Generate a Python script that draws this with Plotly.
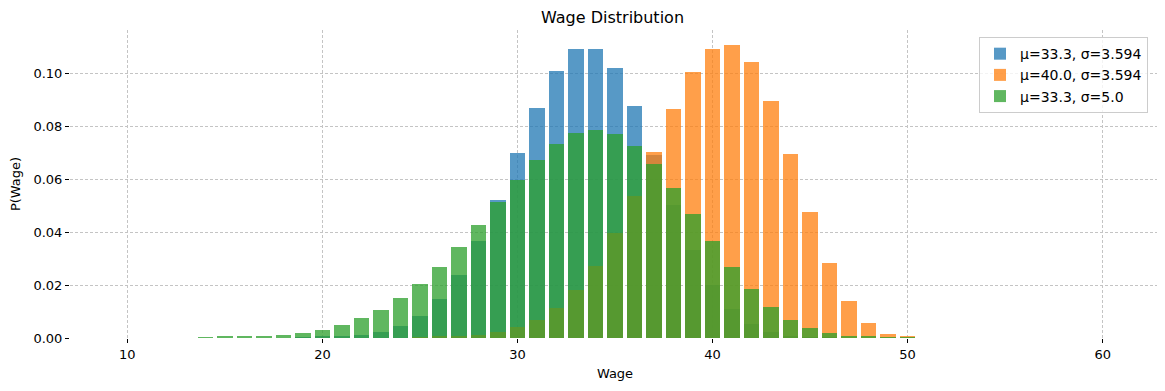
import plotly.graph_objects as go

wages = list(range(10, 61))

# values per wage 10..60
blue_vals = [0, 0, 0, 0, 0, 0, 0, 0, 0,            # 10-18
             0.0002, 0.0004, 0.0008, 0.0011, 0.0023, 0.0045, 0.0083, 0.0147, 0.0238, 0.0366,  # 19-28
             0.0521, 0.0698, 0.0868, 0.1008, 0.1091, 0.1094, 0.1019, 0.0875, 0.0691, 0.0502,  # 29-38
             0.0332, 0.0200, 0.0110, 0.0053, 0.0023, 0.0008, 0.0003, 0.0001,                  # 39-46
             0, 0, 0, 0, 0, 0, 0, 0, 0, 0, 0, 0, 0, 0]                                        # 47-60
orange_vals = [0] * 15 + [                           # 10-24
               0.0002, 0.0004, 0.0008, 0.0011, 0.0023, 0.0042, 0.0068, 0.0113, 0.0181, 0.0272,  # 25-34
               0.0396, 0.0536, 0.0702, 0.0864, 0.1004, 0.1091, 0.1109, 0.1042, 0.0894, 0.0694,  # 35-44
               0.0475, 0.0283, 0.0140, 0.0057, 0.0015, 0.0004] + [0] * 10                       # 45-50, 51-60
green_vals = [0, 0, 0, 0,                            # 10-13
              0.0003, 0.0004, 0.0004, 0.0008, 0.0011, 0.0019, 0.0030, 0.0049, 0.0075, 0.0106,  # 14-23
              0.0151, 0.0204, 0.0268, 0.0343, 0.0426, 0.0513, 0.0596, 0.0672, 0.0732, 0.0774,  # 24-33
              0.0785, 0.0770, 0.0725, 0.0657, 0.0566, 0.0468, 0.0366, 0.0268, 0.0185, 0.0117,  # 34-43
              0.0068, 0.0038, 0.0019, 0.0008, 0.0004, 0.0002, 0.0001] + [0] * 10                # 44-50, 51-60

series = [
    ("μ=33.3, σ=3.594", blue_vals, "#1f77b4"),
    ("μ=40.0, σ=3.594", orange_vals, "#ff7f0e"),
    ("μ=33.3, σ=5.0", green_vals, "#2ca02c"),
]

FONT = "DejaVu Sans"

fig = go.Figure()
for name, vals, color in series:
    fig.add_trace(go.Bar(x=wages, y=vals, name=name, width=0.8,
                         marker=dict(color=color, line=dict(width=0)), opacity=0.75))

# the page body adds an 8px offset, so the figure is 8px smaller in each direction
fig.update_layout(
    width=1157, height=383,
    barmode="overlay",
    paper_bgcolor="white", plot_bgcolor="white",
    margin=dict(l=62, r=5, t=22, b=53, autoexpand=False),
    font=dict(family=FONT, size=13, color="#000000"),
    title=dict(text="Wage Distribution", x=604.5 / 1157, xanchor="center", y=1 - 9 / 383, yanchor="middle",
               font=dict(family=FONT, size=16, color="#000000")),
    showlegend=True,
    legend=dict(x=0.989, xanchor="right", y=0.977, yanchor="top",
                bgcolor="rgba(255,255,255,0.8)", bordercolor="#cccccc", borderwidth=1,
                font=dict(family=FONT, size=14), itemsizing="constant",
                tracegroupgap=0),
    bargap=0,
)
fig.update_xaxes(range=[7.06, 62.94], tickvals=[10, 20, 30, 40, 50, 60],
                 showgrid=True, gridcolor="#c4c4c4", gridwidth=0.6, griddash="3px,2px",
                 ticks="outside", ticklen=4, tickcolor="#000000", zeroline=False, showline=False,
                 automargin=False,
                 title=dict(text="Wage", font=dict(family=FONT, size=13), standoff=8),
                 tickfont=dict(family=FONT, size=13))
fig.update_yaxes(range=[0, 0.1164], tickvals=[0, 0.02, 0.04, 0.06, 0.08, 0.10], tickformat=".2f",
                 showgrid=True, gridcolor="#c4c4c4", gridwidth=0.6, griddash="3px,2px",
                 ticks="outside", ticklen=4, tickcolor="#000000", zeroline=False, showline=False,
                 automargin=False,
                 title=dict(text="P(Wage)", font=dict(family=FONT, size=13), standoff=10),
                 tickfont=dict(family=FONT, size=13))

fig.write_html("out.html")
